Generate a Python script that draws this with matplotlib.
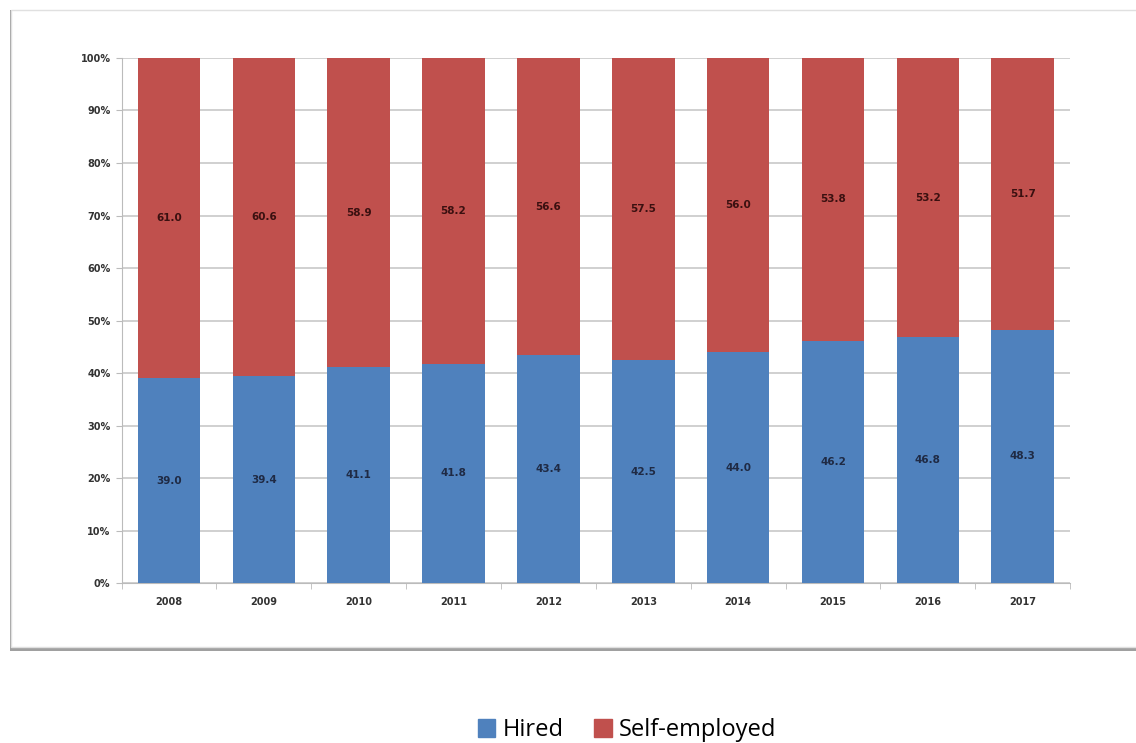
import matplotlib.pyplot as plt
import numpy as np
from matplotlib.patches import Rectangle, Patch

years = ["2008", "2009", "2010", "2011", "2012", "2013", "2014", "2015", "2016", "2017"]
hired = [39.0, 39.4, 41.1, 41.8, 43.4, 42.5, 44.0, 46.2, 46.8, 48.3]
self_employed = [61.0, 60.6, 58.9, 58.2, 56.6, 57.5, 56.0, 53.8, 53.2, 51.7]
yticks = [0, 10, 20, 30, 40, 50, 60, 70, 80, 90, 100]

blue = "#4F81BD"
red = "#C0504D"

fig = plt.figure(figsize=(11.36, 7.43), dpi=100)

# frame with a soft shadow, like a pasted Excel chart (runs off the right edge)
fig.patches.append(Rectangle((0.0085, 0.124), 1.05, 0.862, transform=fig.transFigure,
                             facecolor="#a0a0a0", edgecolor="none", zorder=0))
fig.patches.append(Rectangle((0.0095, 0.129), 1.05, 0.857, transform=fig.transFigure,
                             facecolor="white", edgecolor="#e0e0e0", linewidth=1, zorder=1))

ax = fig.add_axes([0.107, 0.215, 0.835, 0.707])
ax.set_zorder(2)
ax.patch.set_alpha(0)

x = np.arange(len(years))
b1 = ax.bar(x, hired, width=0.66, color=blue, zorder=3, label="Hired")
b2 = ax.bar(x, self_employed, bottom=hired, width=0.66, color=red, zorder=3, label="Self-employed")
ax.bar_label(b1, labels=[f"{v:.1f}" for v in hired], label_type="center",
             fontsize=7.5, fontweight="bold", color="#1f2a44")
ax.bar_label(b2, labels=[f"{v:.1f}" for v in self_employed], label_type="center",
             fontsize=7.5, fontweight="bold", color="#3a1010")

ax.set_xlim(-0.5, len(years) - 0.5)
ax.set_ylim(0, 100)
ax.set_yticks(yticks)
ax.set_yticklabels([f"{t}%" for t in yticks], fontsize=7, fontweight="bold", color="#333333")
ax.set_xticks(x)
ax.set_xticklabels(years, fontsize=7, fontweight="bold", color="#333333")
ax.set_xticks(np.arange(-0.5, len(years)), minor=True)
ax.tick_params(axis="x", which="major", length=0, pad=10)
ax.tick_params(axis="x", which="minor", length=4, color="#bbbbbb")
ax.tick_params(axis="y", length=4, color="#bbbbbb", pad=4)

ax.grid(axis="y", color="#c8c8c8", linewidth=1.2, zorder=0)
for s in ["top", "right"]:
    ax.spines[s].set_visible(False)
ax.spines["left"].set_color("#bbbbbb")
ax.spines["bottom"].set_color("#bbbbbb")

handles = [Patch(color=blue, label="Hired"), Patch(color=red, label="Self-employed")]
fig.legend(handles=handles, loc="center", bbox_to_anchor=(0.552, 0.017), ncol=2, frameon=False,
           prop={"family": "Open Sans", "size": 17}, handlelength=0.75, handleheight=0.75,
           handletextpad=0.3, columnspacing=1.3)

fig.savefig("out.png", dpi=100)
